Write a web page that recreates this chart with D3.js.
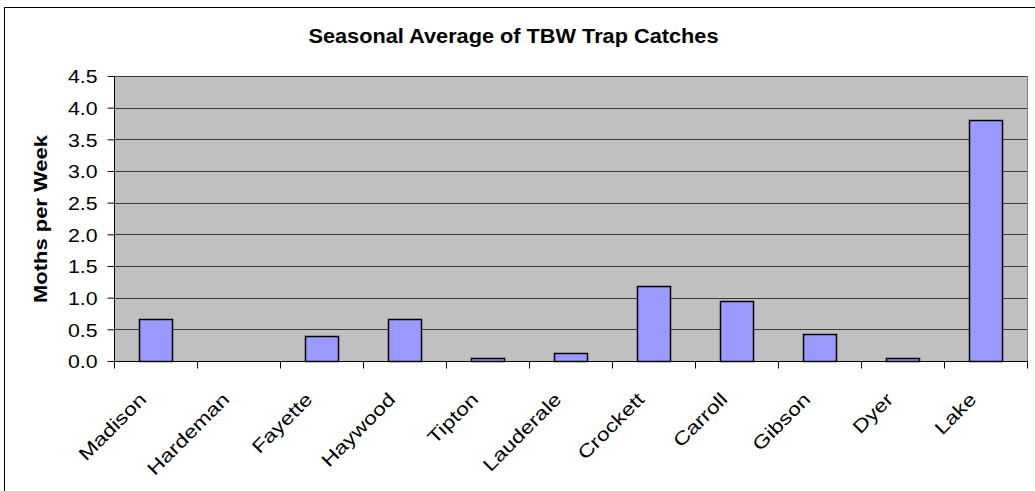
<!DOCTYPE html>
<html>
<head>
<meta charset="utf-8">
<script src="https://cdn.jsdelivr.net/npm/d3@7"></script>
<style>
  body { margin: 0; background: #fff; }
  text { font-family: "Liberation Sans", Arial, sans-serif; fill: #000; }
</style>
</head>
<body>
<svg id="chart" width="1035" height="491"></svg>
<script>
'use strict'

const counties = ['Madison', 'Hardeman', 'Fayette', 'Haywood', 'Tipton', 'Lauderale',
  'Crockett', 'Carroll', 'Gibson', 'Dyer', 'Lake']
const mothsPerWeek = [0.67, 0, 0.4, 0.67, 0.05, 0.13, 1.18, 0.94, 0.43, 0.05, 3.8]
const yTicks = [0, 0.5, 1, 1.5, 2, 2.5, 3, 3.5, 4, 4.5]
const chartTitle = 'Seasonal Average of TBW Trap Catches'
const yTitle = 'Moths per Week'

const svg = d3.select('#chart')
const plot = {left: 114, top: 76, right: 1027, bottom: 361}
const font = '"Liberation Sans", Arial, sans-serif'

// outer chart border (right/bottom fall off the picture)
svg.append('rect')
  .attr('x', 4.5).attr('y', 7.5)
  .attr('width', 1040).attr('height', 500)
  .attr('fill', '#fff').attr('stroke', '#000')

const x = d3.scaleBand().domain(counties).range([plot.left, plot.right])
  .paddingInner(0.6).paddingOuter(0.3)
const xCat = d3.scaleBand().domain(counties).range([plot.left, plot.right])
const y = d3.scaleLinear().domain([0, 4.5]).range([plot.bottom, plot.top])

svg.append('rect')
  .attr('x', plot.left).attr('y', plot.top)
  .attr('width', plot.right - plot.left).attr('height', plot.bottom - plot.top)
  .attr('fill', '#c0c0c0')

svg.append('line')
  .attr('x1', plot.right + 0.5).attr('x2', plot.right + 0.5)
  .attr('y1', plot.top).attr('y2', plot.bottom)
  .attr('stroke', '#808080')

svg.append('g').selectAll('line').data(yTicks.slice(1)).join('line')
  .attr('x1', plot.left).attr('x2', plot.right)
  .attr('y1', d => Math.round(y(d)) + 0.5).attr('y2', d => Math.round(y(d)) + 0.5)
  .attr('stroke', '#3a3a3a')

svg.append('g').selectAll('rect').data(counties).join('rect')
  .attr('x', d => Math.round(x(d)) + 0.5)
  .attr('y', (d, i) => Math.round(y(mothsPerWeek[i])) + 0.5)
  .attr('width', Math.round(x.bandwidth()))
  .attr('height', (d, i) => Math.round(plot.bottom - y(mothsPerWeek[i])))
  .attr('fill', '#9999ff')
  .attr('stroke', '#000').attr('stroke-width', 1.5)
  .style('display', (d, i) => mothsPerWeek[i] > 0 ? null : 'none')

// y axis
const yAxis = d3.axisLeft(y).tickValues(yTicks).tickFormat(d3.format('.1f'))
  .tickSize(7).tickPadding(0)
const gy = svg.append('g').attr('transform', `translate(${plot.left + 0.5},0)`).call(yAxis)
gy.select('.domain').attr('d', `M0,${plot.top}V${plot.bottom}`)
gy.selectAll('.tick line').attr('stroke', '#000')
gy.selectAll('.tick text')
  .attr('x', 0).attr('dy', '0.36em')
  .attr('transform', 'translate(-17,0) scale(1.15,1)')
  .attr('font-size', 18.5)
  .style('font-family', font)

// x axis with ticks between categories
const gx = svg.append('g').attr('transform', `translate(0,${plot.bottom + 0.5})`)
gx.append('line').attr('x1', plot.left).attr('x2', plot.right + 1).attr('stroke', '#000')
gx.selectAll('line.tk').data(counties.concat(['end'])).join('line')
  .attr('class', 'tk')
  .attr('x1', (d, i) => Math.round(plot.left + i * xCat.step()) + 0.5)
  .attr('x2', (d, i) => Math.round(plot.left + i * xCat.step()) + 0.5)
  .attr('y1', 0).attr('y2', 7).attr('stroke', '#000')
gx.selectAll('text').data(counties).join('text')
  .attr('text-anchor', 'end')
  .attr('font-size', 18.5)
  .attr('transform', d => `translate(${xCat(d) + xCat.bandwidth() / 2 - 8},${39}) rotate(-45) scale(1.24,1)`)
  .text(d => d)

svg.append('text')
  .attr('transform', 'translate(513.5,43) scale(1.035,1)')
  .attr('text-anchor', 'middle')
  .attr('font-size', 21).attr('font-weight', 'bold')
  .text(chartTitle)

svg.append('text')
  .attr('transform', `translate(47,219) rotate(-90) scale(1.22,1)`)
  .attr('text-anchor', 'middle')
  .attr('font-size', 18).attr('font-weight', 'bold')
  .text(yTitle)
</script>
</body>
</html>
